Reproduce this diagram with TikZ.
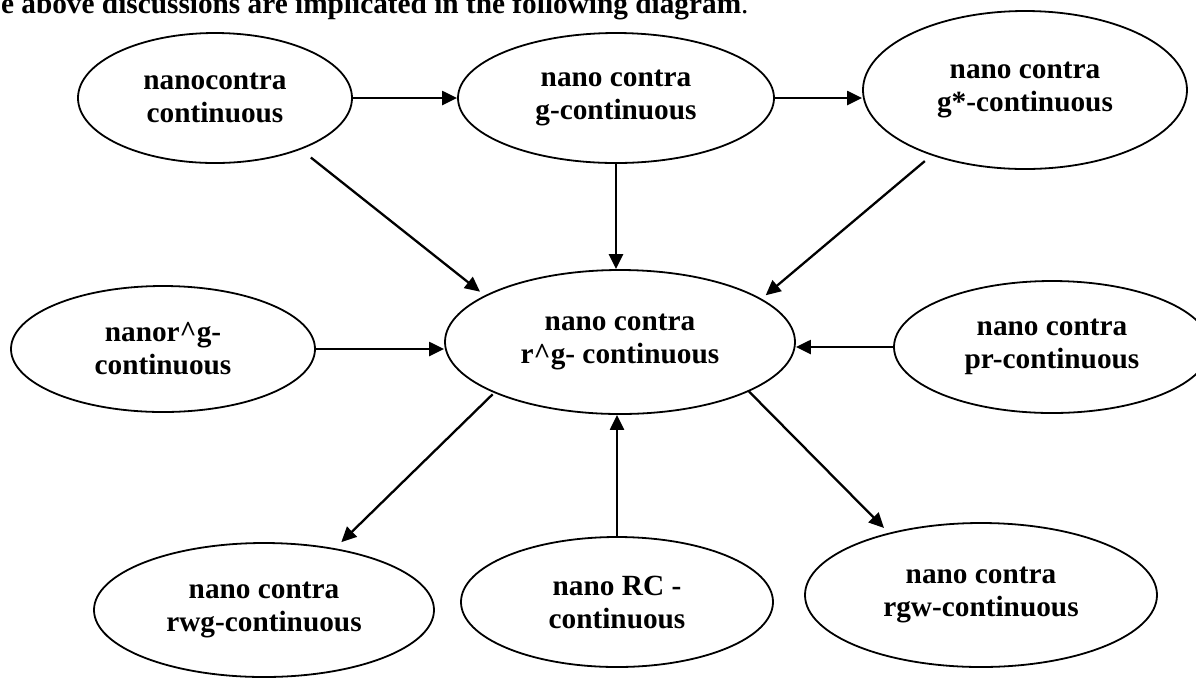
\documentclass[tikz,border=0pt]{standalone}
\usepackage{fontspec}
\setmainfont{Liberation Serif}
\usetikzlibrary{arrows.meta,positioning,shapes.geometric}

\begin{document}
\begin{tikzpicture}[
    x=0.5pt, y=-0.5pt,
    node distance=122pt,
    >={Triangle[length=7.5pt,width=7pt]},
    font=\bfseries\fontsize{14.65}{16.5}\selectfont,
    notion/.style={
		ellipse,
		draw=black,
		line width=0.9pt,
		align=center,
		inner sep=0pt,
		fill=white
	},
	link/.style={
		->,
		line width=1.15pt
	}
  ]

\useasboundingbox (0,0) rectangle (1196,677);
\clip (0,0) rectangle (1196,677);

\node [anchor=base west] (caption) at (-6,13.5)
 {e above discussions are implicated in the following diagram{\mdseries .}};

% // The middle
\node [notion, minimum width=175pt, minimum height=72pt] (rg) at (620,342)
 {nano contra\\r\textasciicircum g- continuous};

% // top row
\node [notion, above of=rg, xshift=-202.5pt, minimum width=137pt, minimum height=65pt] (nc)
 {nanocontra\\continuous};
\node [notion, above of=rg, xshift=-2pt, minimum width=158pt, minimum height=65pt] (ncg)
 {nano contra\\g-continuous};
\node [notion, above of=rg, xshift=202.5pt, yshift=4pt, minimum width=162pt, minimum height=79pt] (ncgs)
 {nano contra\\g*-continuous};

% // sides
\node [notion, left of=rg, xshift=-106.5pt, yshift=-3.5pt, minimum width=152pt, minimum height=63pt] (nrg)
 {nanor\textasciicircum g-\\continuous};
\node [notion, right of=rg, xshift=94pt, yshift=-2.5pt, minimum width=158pt, minimum height=66pt] (npr)
 {nano contra\\pr-continuous};

% // bottom row
\node [notion, below of=rg, xshift=-178pt, yshift=-12pt, minimum width=170pt, minimum height=67pt] (rwg)
 {nano contra\\rwg-continuous};
\node [notion, below of=rg, xshift=-1.5pt, yshift=-8pt, minimum width=156pt, minimum height=65pt] (nrc)
 {nano RC -\\continuous};
\node [notion, below of=rg, xshift=180.5pt, yshift=-4.5pt, minimum width=176pt, minimum height=72pt] (rgw)
 {nano contra\\rgw-continuous};

 \draw [link] (nc) -- (ncg);
 \draw [link] (ncg.east) -- (ncgs.west |- ncg.east);
 \draw [link, shorten <=6.4pt, shorten >=3pt] (nc.-31.7) -- (rg.161.7);
 \draw [link] (ncg.south) -- (ncg.south |- rg.north);
 \draw [link, shorten <=4.4pt, shorten >=2.7pt] (ncgs.-145.9) -- (rg.17.8);
 \draw [link] (nrg.east) -- (nrg.east -| rg.west);
 \draw [link] (npr.west) -- (npr.west -| rg.east);
 \draw [link, shorten <=1pt, shorten >=4.4pt] (rg.-158.1) -- (rwg.41.4);
 \draw [link] (nrc.north) -- (nrc.north |- rg.south);
 \draw [link, shorten >=3.4pt] (rg.-21.8) -- (rgw.146.4);

\end{tikzpicture}
\end{document}
